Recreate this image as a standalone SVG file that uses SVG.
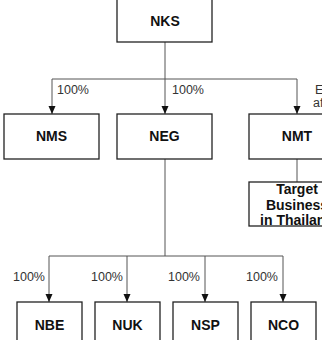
<svg xmlns="http://www.w3.org/2000/svg" width="322" height="340" viewBox="0 0 322 340">
<style>
.box{fill:#fff;stroke:#222;stroke-width:1.3}
.name{font-family:"Liberation Sans",Arial,sans-serif;font-weight:bold;font-size:14px;fill:#111;text-anchor:middle}
.lbl{font-family:"Liberation Sans",Arial,sans-serif;font-size:12.5px;fill:#333}
.conn{fill:none;stroke:#555;stroke-width:1}
</style>
<defs>
<marker id="arr" markerUnits="userSpaceOnUse" markerWidth="8" markerHeight="8" viewBox="0 -4 8 8" refX="8" refY="0" orient="auto">
<path d="M0,-3.5 L8,0 L0,3.5 z" fill="#111"/>
</marker>
</defs>
<rect width="322" height="340" fill="#fff"/>
<g id="connectors">
<path class="conn" d="M165,42 V79 M52,79 H297"/>
<path class="conn" d="M52,79 V114" marker-end="url(#arr)"/>
<path class="conn" d="M165,79 V114" marker-end="url(#arr)"/>
<path class="conn" d="M297,79 V114" marker-end="url(#arr)"/>
<path class="conn" d="M297,159 V182"/>
<path class="conn" d="M165,159 V256 M49,256 H283"/>
<path class="conn" d="M49,256 V302" marker-end="url(#arr)"/>
<path class="conn" d="M127,256 V302" marker-end="url(#arr)"/>
<path class="conn" d="M205,256 V302" marker-end="url(#arr)"/>
<path class="conn" d="M283,256 V302" marker-end="url(#arr)"/>
<text class="lbl" x="57" y="94">100%</text>
<text class="lbl" x="172" y="94">100%</text>
<text class="lbl" x="315" y="94">E</text>
<text class="lbl" x="313" y="107">af</text>
<text class="lbl" x="13" y="281">100%</text>
<text class="lbl" x="91" y="281">100%</text>
<text class="lbl" x="168" y="281">100%</text>
<text class="lbl" x="246" y="281">100%</text>
</g>
<g id="NKS"><rect class="box" x="117" y="-2" width="95" height="44"/><text class="name" x="165" y="26">NKS</text></g>
<g id="NMS"><rect class="box" x="4" y="114" width="95" height="45"/><text class="name" x="51.5" y="141">NMS</text></g>
<g id="NEG"><rect class="box" x="117" y="114" width="95" height="45"/><text class="name" x="164.5" y="141">NEG</text></g>
<g id="NMT"><rect class="box" x="249" y="114" width="96" height="45"/><text class="name" x="297" y="141">NMT</text></g>
<g id="Target"><rect class="box" x="249" y="182" width="96" height="44"/>
<text class="name" x="297" y="194">Target</text>
<text class="name" x="297" y="210">Business</text>
<text class="name" x="297" y="225">in Thailand</text></g>
<g id="NBE"><rect class="box" x="17" y="302" width="65" height="45"/><text class="name" x="49.5" y="330">NBE</text></g>
<g id="NUK"><rect class="box" x="95" y="302" width="65" height="45"/><text class="name" x="127.5" y="330">NUK</text></g>
<g id="NSP"><rect class="box" x="173" y="302" width="65" height="45"/><text class="name" x="205.5" y="330">NSP</text></g>
<g id="NCO"><rect class="box" x="251" y="302" width="65" height="45"/><text class="name" x="283.5" y="330">NCO</text></g>
</svg>
